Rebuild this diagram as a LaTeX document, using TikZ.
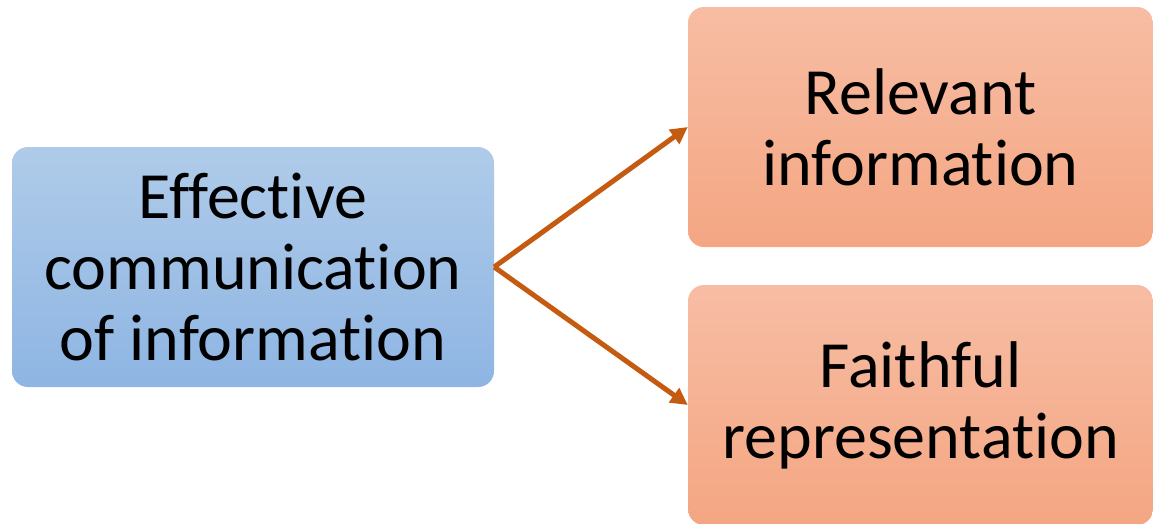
\documentclass[tikz,border=0pt]{standalone}
\usepackage{fontspec}
\setmainfont{Carlito}[Ligatures={NoCommon}]
\usetikzlibrary{arrows.meta}
\definecolor{bluetop}{HTML}{AFCBE9}
\definecolor{bluebot}{HTML}{8EB5E3}
\definecolor{orgtop}{HTML}{F7BDA4}
\definecolor{orgbot}{HTML}{F4A682}
\definecolor{arrowc}{HTML}{C55A11}
\tikzset{
  box/.style={shape=rectangle,rounded corners=16pt,align=center,inner sep=0pt,
    font=\fontsize{66}{71}\selectfont},
  bluebox/.style={box,top color=bluetop,bottom color=bluebot,minimum width=482pt,minimum height=240pt},
  orgbox/.style={box,top color=orgtop,bottom color=orgbot,minimum width=465pt,minimum height=240pt},
  link/.style={draw=arrowc,line width=5pt,-{Triangle[length=17pt,width=17pt]}}
}
\begin{document}
\begin{tikzpicture}[x=1pt,y=-1pt]
\useasboundingbox (0,0) rectangle (1153,523);
\node[bluebox] (eff) at (253,267) {Effective\\communication\\of information};
\node[orgbox] (rel) at (920.5,127) {Relevant\\information};
\node[orgbox] (faith) at (920.5,405) {Faithful\\representation};
\draw [link] (eff.east) -- (rel.west);
\draw [link] (eff.east) -- (faith.west);
\end{tikzpicture}
\end{document}
